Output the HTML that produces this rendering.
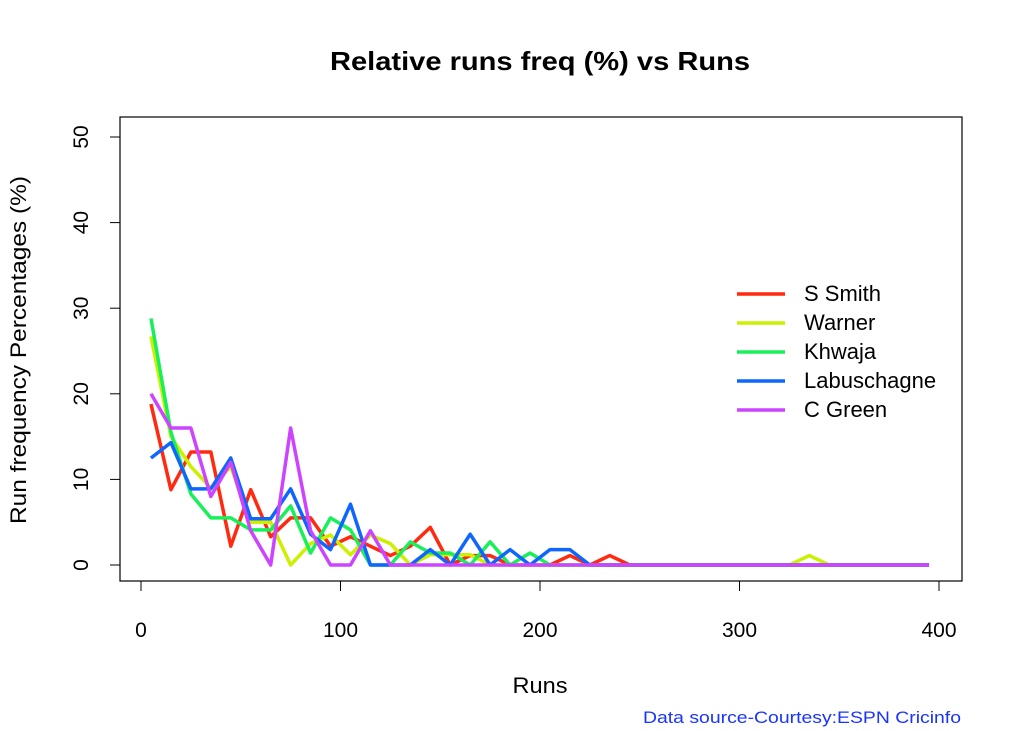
<!DOCTYPE html>
<html><head><meta charset="utf-8"><style>
html,body{margin:0;padding:0;background:#fff;}
svg{display:block;font-family:"Liberation Sans",Arial,sans-serif;}
</style></head><body>
<svg id="chart" width="1023" height="731">
<text x="540" y="70" text-anchor="middle" font-size="26" font-weight="bold" textLength="420" lengthAdjust="spacingAndGlyphs">Relative runs freq (%) vs Runs</text>
<rect x="120" y="117" width="842" height="464" fill="none" stroke="#000" stroke-width="1.2"/>
<g id="xaxis"></g>
<g id="yaxis"></g>
<text x="540" y="693" text-anchor="middle" font-size="22" textLength="55" lengthAdjust="spacingAndGlyphs">Runs</text>
<text transform="translate(26,350) rotate(-90)" text-anchor="middle" font-size="22" textLength="348" lengthAdjust="spacingAndGlyphs">Run frequency Percentages (%)</text>
<g id="series"></g>
<g id="legend"></g>
<text x="961" y="723" text-anchor="end" font-size="17" fill="#1a33ff" textLength="318" lengthAdjust="spacingAndGlyphs">Data source-Courtesy:ESPN Cricinfo</text>
</svg>
<script>
const runs = [5,15,25,35,45,55,65,75,85,95,105,115,125,135,145,155,165,175,185,195,205,215,225,235,245,255,265,275,285,295,305,315,325,335,345,355,365,375,385,395];
const smith = [18.8,8.8,13.2,13.2,2.2,8.8,3.3,5.5,5.5,2.2,3.3,2.2,1.1,2.2,4.4,0,1.1,1.1,0,0,0,1.1,0,1.1,0,0,0,0,0,0,0,0,0,0,0,0,0,0,0,0];
const warner = [26.7,15,11.5,9,11.5,5,5,0,2.5,3.5,1.2,3.5,2.5,0,1.2,1.2,1.2,0,0,0,0,0,0,0,0,0,0,0,0,0,0,0,0,1.1,0,0,0,0,0,0];
const khwaja = [28.8,15.5,8.3,5.5,5.5,4.1,4.1,6.9,1.4,5.5,4.1,0,0,2.7,1.4,1.4,0,2.7,0,1.4,0,0,0,0,0,0,0,0,0,0,0,0,0,0,0,0,0,0,0,0];
const labuschagne = [12.5,14.3,8.9,8.9,12.5,5.4,5.4,8.9,3.6,1.8,7.1,0,0,0,1.8,0,3.6,0,1.8,0,1.8,1.8,0,0,0,0,0,0,0,0,0,0,0,0,0,0,0,0,0,0];
const green = [20,16,16,8,12,4,0,16,4,0,0,4,0,0,0,0,0,0,0,0,0,0,0,0,0,0,0,0,0,0,0,0,0,0,0,0,0,0,0,0];
const seriesNames = ["S Smith","Warner","Khwaja","Labuschagne","C Green"];
const seriesColors = ["#ff2a0f","#ccf000","#18f05a","#0f66ff","#cc44ff"];
const xTicks = [0,100,200,300,400];
const yTicks = [0,10,20,30,40,50];

const NS="http://www.w3.org/2000/svg";
const X = v => 141 + v*1.995;
const Y = v => 565 - v*8.56;
function mk(tag, parent, attrs){const e=document.createElementNS(NS,tag);for(const k in attrs)e.setAttribute(k,attrs[k]);parent.appendChild(e);return e;}
const xa=document.getElementById('xaxis'), ya=document.getElementById('yaxis');
mk('line',xa,{x1:X(0),x2:X(400),y1:581,y2:581,stroke:'#000'});
xTicks.forEach(t=>{
  const l=mk('line',xa,{x1:X(t),x2:X(t),y1:581,y2:591,stroke:'#000'});
  
  
  const tx=mk('text',xa,{x:X(t),y:637,'text-anchor':'middle','font-size':21});
  tx.textContent=t;
  
  
});
mk('line',ya,{x1:120,x2:120,y1:Y(0),y2:Y(50),stroke:'#000'});
yTicks.forEach(t=>{
  const l=mk('line',ya,{x1:110,x2:120,y1:Y(t),y2:Y(t),stroke:'#000'});
  
  
  const tx=mk('text',ya,{transform:`translate(88,${Y(t)}) rotate(-90)`,'text-anchor':'middle','font-size':21});
  tx.textContent=t;
  
  
});
const sg=document.getElementById('series');
[smith,warner,khwaja,labuschagne,green].forEach((d,i)=>{
  const p=mk('polyline',sg,{points:d.map((v,j)=>X(runs[j])+','+Y(v)).join(' '),fill:'none',stroke:seriesColors[i],'stroke-width':3.5,'stroke-linejoin':'round'});
  
  
});
const lg=document.getElementById('legend');
seriesNames.forEach((n,i)=>{
  const y=294+i*29;
  const l=mk('line',lg,{x1:737,x2:785,y1:y,y2:y,stroke:seriesColors[i],'stroke-width':3.5});
  
  
  const t=mk('text',lg,{x:804,y:y+7,'font-size':22});
  t.textContent=n;
  
  
});
</script>
</body></html>
